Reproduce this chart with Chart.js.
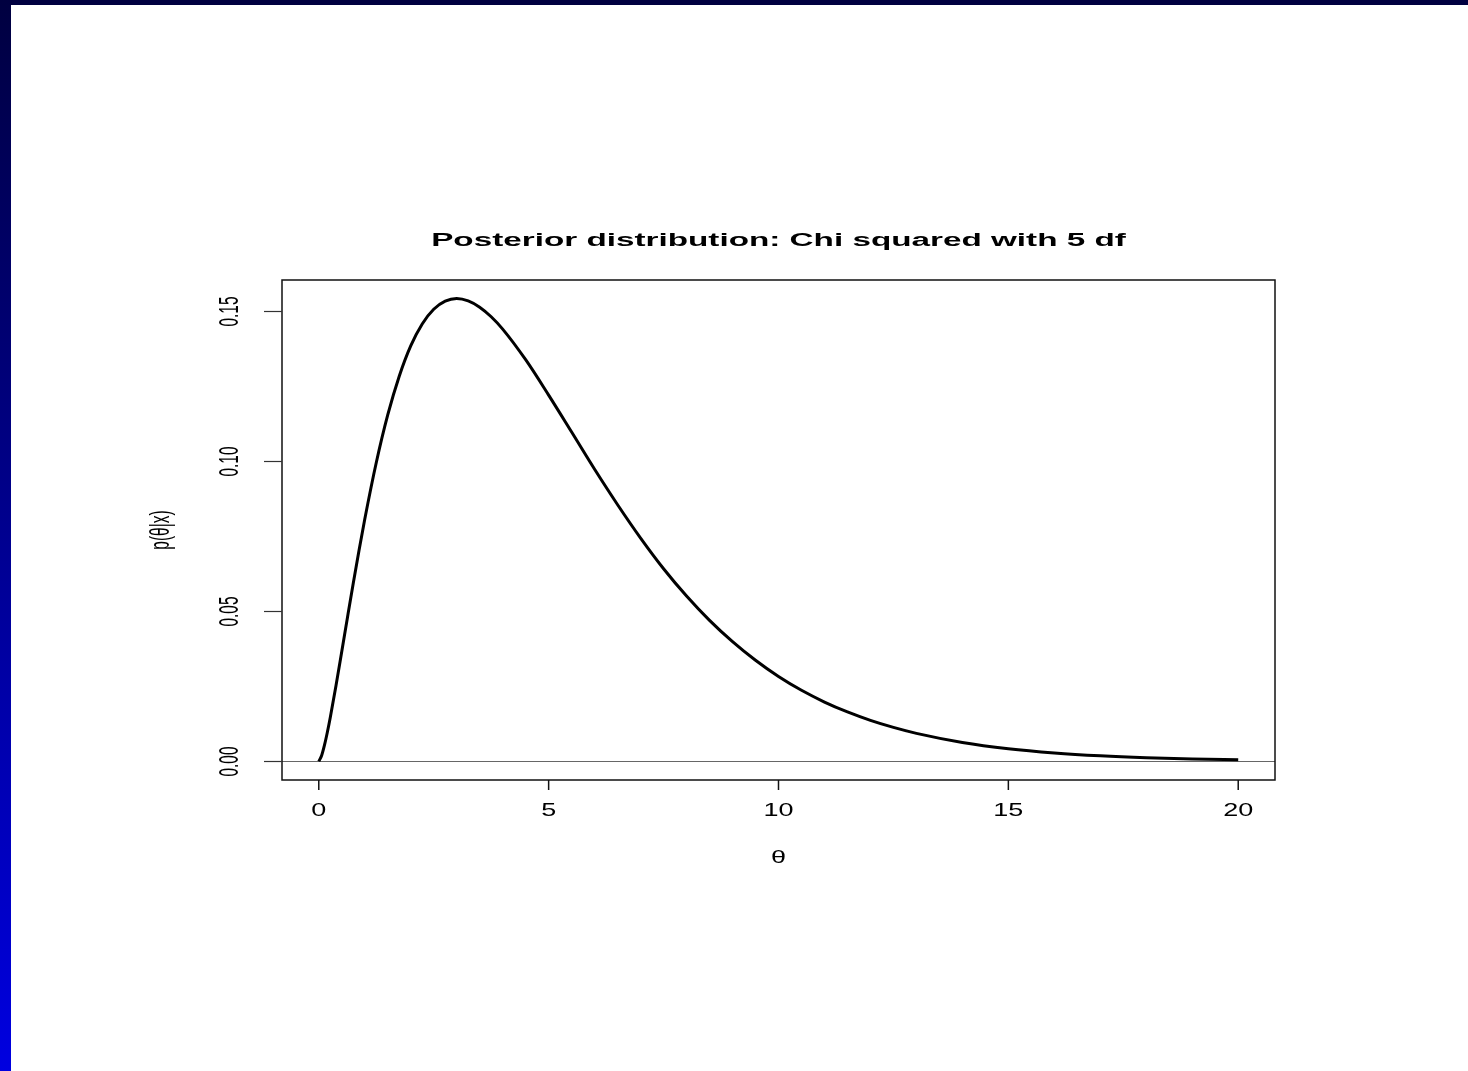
<!DOCTYPE html>
<html>
<head>
<meta charset="utf-8">
<script src="https://cdn.jsdelivr.net/npm/chart.js@4"></script>
<style>
  html, body { margin: 0; padding: 0; background: #fff; overflow: hidden; }
  #wrap { position: relative; width: 1468px; height: 1071px; }
  #topbar { position: absolute; left: 0; top: 0; width: 1468px; height: 5px; background: #000040; }
  #leftbar { position: absolute; left: 0; top: 0; width: 11px; height: 1071px;
             background: linear-gradient(to bottom, #000040, #0000e0); }
</style>
</head>
<body>
<div id="wrap">
  <canvas id="myChart" width="1468" height="1071"></canvas>
  <div id="topbar"></div>
  <div id="leftbar"></div>
</div>
<script>
// density of the posterior
var theta = [0, 0.0625, 0.125, 0.1875, 0.25, 0.375, 0.5, 0.625, 0.75, 0.875, 1, 1.25, 1.5, 1.75, 2, 2.25, 2.5, 2.75, 3, 3.25, 3.5, 3.75,
  4, 4.5, 5, 5.5, 6, 6.5, 7, 7.5, 8, 8.5, 9, 9.5, 10, 10.5, 11, 11.5, 12, 12.5, 13, 14, 15, 16, 17, 18, 19, 20];
var dens = [0, 0.002014, 0.00552, 0.009831, 0.01467, 0.02532, 0.03662, 0.04807, 0.05936, 0.07027, 0.08066, 0.09948, 0.1154, 0.1283, 0.1384, 0.1457, 0.1506, 0.1533, 0.1542, 0.1534, 0.1513, 0.1481,
  0.1440, 0.1338, 0.1220, 0.1097, 0.0973, 0.0855, 0.0744, 0.0642, 0.0551, 0.0470, 0.0399, 0.0337, 0.0283, 0.0237, 0.0198, 0.0165, 0.0137, 0.01135, 0.00937, 0.00635, 0.00427, 0.00286, 0.00190, 0.00125, 0.000824, 0.000540];

var xTicks = [0, 5, 10, 15, 20];
var yTicks = [0, 0.05, 0.10, 0.15];
var yTickLabels = ["0.00", "0.05", "0.10", "0.15"];

var titleText = "Posterior distribution: Chi squared with 5 df";
var xTitle = "\u03b8";
var yTitle = "p(\u03b8|x)";

var pts = theta.map(function (t, i) {
  return { x: t, y: dens[i] };
});

// text helper: stretched like the original picture
function txt(ctx, s, x, y, font, sx, sy, rot) {
  ctx.save();
  ctx.translate(x, y);
  ctx.scale(sx, sy);
  if (rot) ctx.rotate(rot);
  ctx.font = font;
  ctx.fillStyle = "#000";
  ctx.textAlign = "center";
  ctx.textBaseline = "middle";
  ctx.fillText(s, 0, 0);
  ctx.restore();
}

var rAxes = {
  id: "rAxes",
  beforeDatasetsDraw: function (chart) {
    var ctx = chart.ctx;
    var a = chart.chartArea;
    var ys = chart.scales.y;
    ctx.save();
    // abline h = 0
    ctx.strokeStyle = "#666";
    ctx.lineWidth = 1.2;
    var y0 = Math.round(ys.getPixelForValue(0)) + 0.5;
    ctx.beginPath();
    ctx.moveTo(a.left, y0);
    ctx.lineTo(a.right, y0);
    ctx.stroke();
    ctx.restore();
  },
  afterDatasetsDraw: function (chart) {
    var ctx = chart.ctx;
    var a = chart.chartArea;
    var xs = chart.scales.x, ys = chart.scales.y;
    ctx.save();
    // box
    ctx.strokeStyle = "#111";
    ctx.lineWidth = 1.5;
    ctx.strokeRect(a.left, a.top, a.right - a.left, a.bottom - a.top);
    // x ticks
    xTicks.forEach(function (v) {
      var px = xs.getPixelForValue(v);
      ctx.beginPath();
      ctx.moveTo(px, a.bottom);
      ctx.lineTo(px, a.bottom + 10);
      ctx.stroke();
      txt(ctx, String(v), px, a.bottom + 31, "18px 'Liberation Sans', Arial, sans-serif", 1.5, 1, 0);
    });
    // y ticks
    ctx.strokeStyle = "#333";
    ctx.lineWidth = 1.2;
    yTicks.forEach(function (v, i) {
      var py = Math.round(ys.getPixelForValue(v)) + 0.5;
      ctx.beginPath();
      ctx.moveTo(a.left - 18, py);
      ctx.lineTo(a.left, py);
      ctx.stroke();
      txt(ctx, yTickLabels[i], a.left - 51, py, "18px 'Liberation Sans', Arial, sans-serif", 1.5, 0.86, -Math.PI / 2);
    });
    // titles
    txt(ctx, titleText, (a.left + a.right) / 2, a.top - 39, "bold 21.6px 'Liberation Sans', Arial, sans-serif", 1.54, 0.86, 0);
    txt(ctx, xTitle, xs.getPixelForValue(10), a.bottom + 78, "18px 'Liberation Sans', Arial, sans-serif", 1.5, 1, 0);
    txt(ctx, yTitle, a.left - 120, (a.top + a.bottom) / 2, "18px 'Liberation Sans', Arial, sans-serif", 1.5, 0.86, -Math.PI / 2);
    ctx.restore();
  }
};

const ctx = document.getElementById("myChart");

new Chart(ctx, {
  type: "line",
  data: {
    datasets: [
      {
        data: pts,
        borderColor: "#000",
        borderWidth: 3,
        pointRadius: 0,
        fill: false,
        tension: 0.4,
        cubicInterpolationMode: "monotone",
      },
    ],
  },
  options: {
    responsive: false,
    animation: false,
    events: [],
    layout: { padding: { left: 282, right: 193, top: 280, bottom: 291 } },
    plugins: { legend: { display: false }, tooltip: { enabled: false } },
    scales: {
      x: { type: "linear", min: -0.8, max: 20.8, display: false },
      y: { type: "linear", min: -0.00617, max: 0.16035, display: false },
    },
  },
  plugins: [rAxes],
});
</script>
</body>
</html>
